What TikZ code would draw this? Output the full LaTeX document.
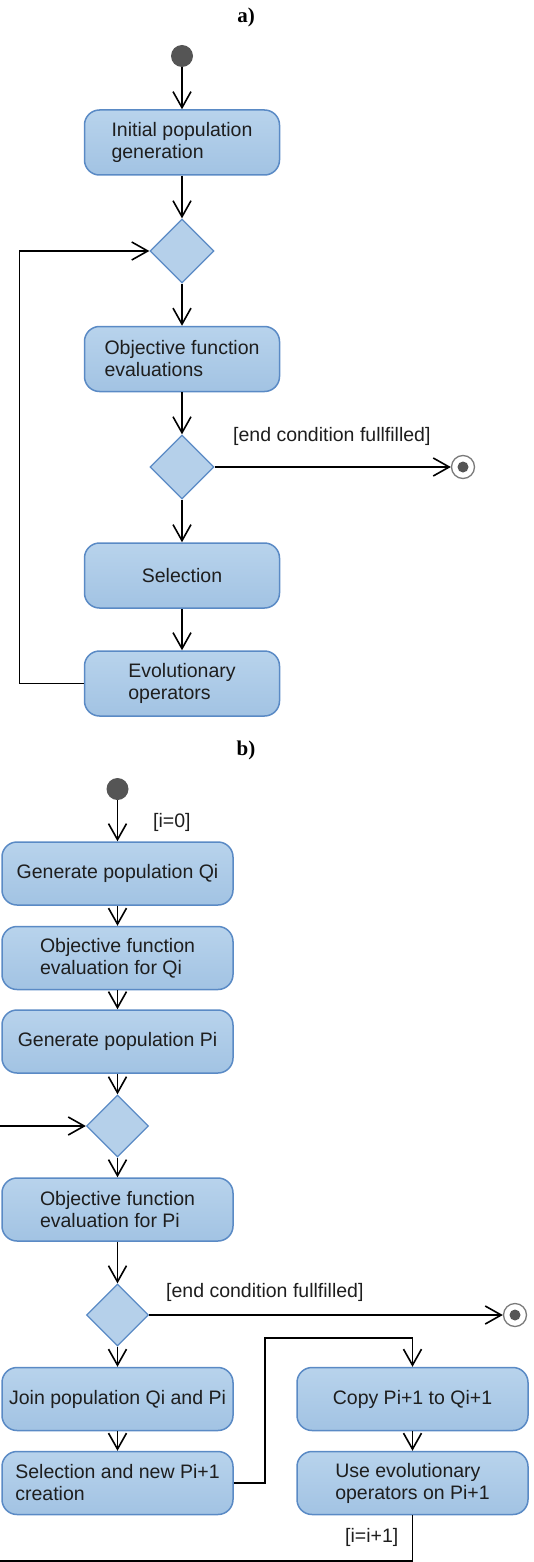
\documentclass[tikz,border=0pt]{standalone}
\usepackage{fontspec}
\setmainfont{Liberation Sans}
\newfontfamily\titlefont{Liberation Serif}
\usetikzlibrary{arrows.meta,shapes.geometric}
\definecolor{boxtop}{HTML}{B8D3EC}
\definecolor{boxbot}{HTML}{A2C3E3}
\definecolor{boxline}{HTML}{5A8AC5}
\definecolor{dfill}{HTML}{B5D0EA}
\definecolor{startgray}{HTML}{555555}
\definecolor{ringgray}{HTML}{7A7A7A}
\definecolor{txt}{HTML}{1E1E1E}
\begin{document}
\begin{tikzpicture}[x=1pt,y=-1pt,
  every node/.style={font=\fontsize{19.5}{22}\selectfont, text=txt},
  actbase/.style={rectangle, rounded corners=15pt, draw=boxline, line width=1.5pt,
    top color=boxtop, bottom color=boxbot, inner sep=0pt, align=left},
  acta/.style={actbase, minimum width=195pt, minimum height=65pt},
  actb/.style={actbase, minimum width=231pt, minimum height=63pt},
  dec/.style={diamond, draw=boxline, line width=1.3pt, fill=dfill, inner sep=0pt,
    minimum width=64pt, minimum height=64pt},
  startnode/.style={circle, fill=startgray, inner sep=0pt, minimum size=22pt},
  endnode/.style={circle, draw=ringgray, line width=1.3pt, fill=white, inner sep=0pt, minimum size=23pt},
  arr/.style={line width=1.3pt, -{Straight Barb[length=16pt,width=18pt,line width=1.6pt]}},
  titl/.style={font=\titlefont\bfseries\fontsize{21}{23}\selectfont, text=black},
  guard/.style={anchor=west, inner sep=0pt}
]
\useasboundingbox (0,0) rectangle (533,1562);

% ---------- a) ----------
\node[titl] (ta) at (246,17) {a)};
\node[startnode] (sa) at (182,56) {};
\node[acta] (init) at (182,142.5) {Initial population\\generation};
\node[dec] (d1) at (182,251) {};
\node[acta] (obj) at (182,359) {Objective function\\evaluations};
\node[dec] (d2) at (182,467) {};
\node[endnode] (ea) at (463,467) {};
\fill[startgray] (ea.center) circle (5.5pt);
\node[guard] (la) at (233,436) {[end condition fullfilled]};
\node[acta] (sel) at (182,575.5) {Selection};
\node[acta] (evo) at (182,683.5) {Evolutionary\\operators};

\draw[arr] (sa) -- (init);
\draw[arr] (init) -- (d1.north);
\draw[arr] (d1.south) -- (obj);
\draw[arr] (obj) -- (d2.north);
\draw[arr] (d2.east) -- (ea.west);
\draw[arr] (d2.south) -- (sel);
\draw[arr] (sel) -- (evo);
\draw[arr] (evo.west) -- (19.5,683.5) |- (d1.west);

% ---------- b) ----------
\node[titl] (tb) at (246,750) {b)};
\node[startnode] (sb) at (117.5,789) {};
\node[guard] (li0) at (153,822) {[i=0]};
\node[actb] (genq) at (117.5,873.5) {Generate population Qi};
\node[actb] (objq) at (117.5,958) {Objective function\\evaluation for Qi};
\node[actb] (genp) at (117.5,1041.5) {Generate population Pi};
\node[dec, minimum width=62pt, minimum height=62pt] (d3) at (117.5,1126) {};
\node[actb] (objp) at (117.5,1209.5) {Objective function\\evaluation for Pi};
\node[dec, minimum width=62pt, minimum height=62pt] (d4) at (117.5,1315) {};
\node[endnode] (eb) at (515,1315) {};
\fill[startgray] (eb.center) circle (5.5pt);
\node[guard] (lb) at (166,1292) {[end condition fullfilled]};
\node[actb] (join) at (117.5,1399) {Join population Qi and Pi};
\node[actb] (selb) at (117.5,1483) {Selection and new Pi+1\\creation};
\node[actb] (copy) at (412.5,1399) {Copy Pi+1 to Qi+1};
\node[actb] (use) at (412.5,1483) {Use evolutionary\\operators on Pi+1};
\node[guard] (li1) at (345,1537) {[i=i+1]};

\draw[arr] (sb) -- (genq);
\draw[arr] (genq) -- (objq);
\draw[arr] (objq) -- (genp);
\draw[arr] (genp) -- (d3.north);
\draw[arr] (d3.south) -- (objp);
\draw[arr] (objp) -- (d4.north);
\draw[arr] (d4.east) -- (eb.west);
\draw[arr] (d4.south) -- (join);
\draw[arr] (join) -- (selb);
\draw[arr] (selb.east) -| (265,1338) -| (copy.north);
\draw[arr] (copy) -- (use);
\draw[arr] (use.south) |- (-5,1561) |- (d3.west);
\end{tikzpicture}
\end{document}
